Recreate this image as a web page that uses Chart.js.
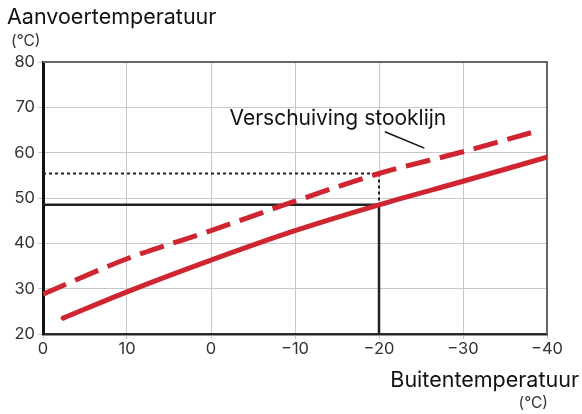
<!DOCTYPE html>
<html>
<head>
<meta charset="utf-8">
<script src="https://cdn.jsdelivr.net/npm/chart.js@4/dist/chart.umd.min.js"></script>
<style>
  html, body { margin: 0; padding: 0; background: #fff; }
  canvas { display: block; }
</style>
</head>
<body>
<canvas id="c" width="582" height="414"></canvas>
<script>
// Outdoor temperature ticks (°C) and the labels printed under them
const outdoorTicks = [20, 10, 0, -10, -20, -30, -40];
const outdoorTickLabels = ['0', '10', '0', '\u221210', '\u221220', '\u221230', '\u221240'];

// Heating curve: supply temperature against outdoor temperature
const curveOutdoor = [17.6, 10, 0, -10, -20, -30, -40];
const curveSupply  = [23.5, 29.3, 36.3, 42.8, 48.5, 53.7, 59.0];

// Shifted heating curve
const shiftedOutdoor = [20, 10, 0, -10, -20, -30, -38.1];
const shiftedSupply  = [28.8, 36.6, 42.8, 49.3, 55.4, 60.2, 64.4];

// Reading at the design outdoor temperature
const designOutdoor = -20;
const designSupply = 48.5;
const shiftedDesignSupply = 55.4;

const RED = '#cf2530';
const FONT = 'Inter, "Open Sans", sans-serif';

const toPts = (xs, ys) => xs.map((x, i) => ({ x, y: ys[i] }));

// Frame (top/right border), axis titles and the curve annotation
const decor = {
  id: 'decor',
  beforeDatasetsDraw(chart) {
    const { ctx, chartArea: a } = chart;
    ctx.save();
    ctx.strokeStyle = '#666';
    ctx.lineWidth = 2;
    ctx.beginPath();
    ctx.moveTo(a.left, a.top);
    ctx.lineTo(a.right, a.top);
    ctx.lineTo(a.right, a.bottom);
    ctx.stroke();
    ctx.restore();
  },
  afterDraw(chart) {
    const { ctx, scales: { x, y } } = chart;
    ctx.save();
    ctx.fillStyle = '#111';
    ctx.textBaseline = 'alphabetic';
    ctx.textAlign = 'left';
    ctx.font = '21.5px ' + FONT;
    ctx.fillText('Aanvoertemperatuur', 7, 24);
    ctx.font = '15.5px ' + FONT;
    ctx.fillStyle = '#333';
    ctx.fillText('(\u00B0C)', 11, 46);

    ctx.textAlign = 'right';
    ctx.fillStyle = '#111';
    ctx.font = '21.5px ' + FONT;
    ctx.fillText('Buitentemperatuur', 579, 387);
    ctx.font = '15.5px ' + FONT;
    ctx.fillStyle = '#333';
    ctx.fillText('(\u00B0C)', 548, 408);

    // annotation for the shifted curve
    ctx.textAlign = 'left';
    ctx.fillStyle = '#111';
    ctx.font = '21px ' + FONT;
    ctx.fillText('Verschuiving stooklijn', x.getPixelForValue(-2.2), y.getPixelForValue(66.0));
    ctx.strokeStyle = '#111';
    ctx.lineWidth = 1.5;
    ctx.beginPath();
    ctx.moveTo(x.getPixelForValue(-20.7), y.getPixelForValue(64.6));
    ctx.lineTo(x.getPixelForValue(-25.4), y.getPixelForValue(61.0));
    ctx.stroke();
    ctx.restore();
  }
};

new Chart(document.getElementById('c'), {
  type: 'scatter',
  data: {
    datasets: [
      {
        data: [{ x: 20, y: shiftedDesignSupply }, { x: designOutdoor, y: shiftedDesignSupply }, { x: designOutdoor, y: designSupply }],
        showLine: true, borderColor: '#222', borderWidth: 2, borderDash: [3, 3],
        pointRadius: 0, tension: 0, order: 3
      },
      {
        data: [{ x: 20, y: designSupply }, { x: designOutdoor, y: designSupply }, { x: designOutdoor, y: 20 }],
        showLine: true, borderColor: '#222', borderWidth: 2.5,
        pointRadius: 0, tension: 0, order: 2
      },
      {
        data: toPts(shiftedOutdoor, shiftedSupply),
        showLine: true, borderColor: RED, borderWidth: 5, borderDash: [25, 10],
        pointRadius: 0, cubicInterpolationMode: 'monotone', order: 1
      },
      {
        data: toPts(curveOutdoor, curveSupply),
        showLine: true, borderColor: RED, borderWidth: 5, borderCapStyle: 'round',
        pointRadius: 0, cubicInterpolationMode: 'monotone', order: 0
      }
    ]
  },
  options: {
    responsive: false,
    animation: false,
    events: [],
    layout: { padding: { left: 0, top: 62, right: 35, bottom: 0 } },
    plugins: { legend: { display: false }, tooltip: { enabled: false } },
    scales: {
      x: {
        type: 'linear', reverse: true, min: -40, max: 20,
        afterBuildTicks: s => { s.ticks = outdoorTicks.map(v => ({ value: v })); },
        afterFit: s => { s.height = 80; },
        ticks: {
          callback: v => outdoorTickLabels[outdoorTicks.indexOf(v)],
          color: '#333', font: { family: FONT, size: 16.5 }, padding: 0, maxRotation: 0,
          autoSkip: false
        },
        grid: { color: '#c8c8c8', lineWidth: 1, tickLength: 5, tickColor: '#c8c8c8' },
        border: { color: '#2a2a2a', width: 2.5 }
      },
      y: {
        type: 'linear', min: 20, max: 80,
        afterFit: s => { s.width = 43; },
        ticks: { stepSize: 10, color: '#333', font: { family: FONT, size: 16.5 }, padding: 3 },
        grid: { color: '#c8c8c8', lineWidth: 1, tickLength: 5, tickColor: '#c8c8c8' },
        border: { color: '#111', width: 3 }
      }
    }
  },
  plugins: [decor]
});
</script>
</body>
</html>
